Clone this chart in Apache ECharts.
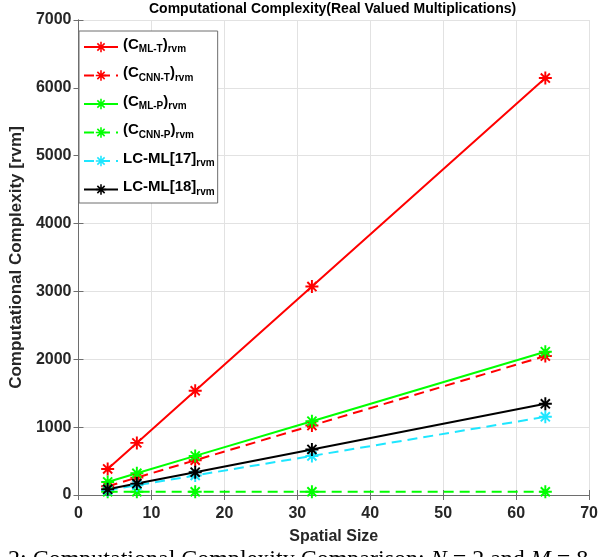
<!DOCTYPE html>
<html>
<head>
<meta charset="utf-8">
<script src="https://cdn.jsdelivr.net/npm/echarts@6/dist/echarts.min.js"></script>
<style>
html,body{margin:0;padding:0;background:#fff;}
#chart{width:601px;height:557px;}
</style>
</head>
<body>
<div id="chart"></div>
<script>
// ---- data ----
const xValues = [4, 8, 16, 32, 64];
const mlT  = [384, 768, 1536, 3072, 6144];
const cnnT = [128, 256, 512, 1024, 2048];
const mlP  = [192, 320, 576, 1088, 2112];
const cnnP = [48, 48, 48, 48, 48];
const lc17 = [72, 144, 288, 576, 1152];
const lc18 = [84, 168, 336, 672, 1344];
const seriesNames = ['ML-T', 'CNN-T', 'ML-P', 'CNN-P', 'LC17', 'LC18'];
const legendLabels = {
  'ML-T':  '{b|(C}{s|ML-T}{b|)}{s|rvm}',
  'CNN-T': '{b|(C}{s|CNN-T}{b|)}{s|rvm}',
  'ML-P':  '{b|(C}{s|ML-P}{b|)}{s|rvm}',
  'CNN-P': '{b|(C}{s|CNN-P}{b|)}{s|rvm}',
  'LC17':  '{b|LC-ML[17]}{s|rvm}',
  'LC18':  '{b|LC-ML[18]}{s|rvm}'
};
const xTitle = 'Spatial Size';
const yTitle = 'Computational Complexity [rvm]';
const chartTitle = 'Computational Complexity(Real Valued Multiplications)';

const FONT = '"Liberation Sans", Arial, Helvetica, sans-serif';
const ASTER = 'path://M-10,-1.5L10,-1.5L10,1.5L-10,1.5Z M-1.5,-10L1.5,-10L1.5,10L-1.5,10Z M-5.94,-8.06L8.06,5.94L5.94,8.06L-8.06,-5.94Z M-8.06,5.94L5.94,-8.06L8.06,-5.94L-5.94,8.06Z';

function mk(name, vals, color, dashed) {
  return {
    name: name,
    type: 'line',
    data: xValues.map((x, i) => [x, vals[i]]),
    symbol: ASTER,
    symbolSize: 13,
    showSymbol: true,
    itemStyle: { color: color },
    lineStyle: { color: color, width: 2, type: dashed ? [10, 6] : 'solid' },
    emphasis: { disabled: true },
    z: 2
  };
}

const chart = echarts.init(document.getElementById('chart'));
const axisCommon = {
  axisLine: { show: true, lineStyle: { color: '#6e6e6e', width: 1 } },
  axisTick: { show: true, inside: true, length: 5, lineStyle: { color: '#6e6e6e' } },
};
chart.setOption({
  animation: false,
  backgroundColor: '#fff',
  grid: { left: 70, right: 9, top: 20, bottom: 62, containLabel: false },
  xAxis: [
    Object.assign({
      type: 'value', min: 0, max: 70, interval: 10, position: 'bottom',
      name: xTitle, nameLocation: 'middle', nameGap: 34,
      nameTextStyle: { fontFamily: FONT, fontWeight: 'bold', fontSize: 16, color: '#262626' },
      axisLabel: { fontFamily: FONT, fontWeight: 'bold', fontSize: 16, color: '#262626', margin: 11,
                   formatter: v => String(v) },
      splitLine: { show: true, lineStyle: { color: '#e2e2e2', width: 1 } }
    }, axisCommon),
    Object.assign({
      type: 'value', min: 0, max: 70, interval: 10, position: 'top',
      axisLabel: { show: false }, splitLine: { show: false }
    }, axisCommon)
  ],
  yAxis: [
    Object.assign({
      type: 'value', min: 0, max: 7000, interval: 1000, position: 'left',
      name: yTitle, nameLocation: 'middle', nameGap: 28,
      nameTextStyle: { fontFamily: FONT, fontWeight: 'bold', fontSize: 17, color: '#262626' },
      axisLabel: { fontFamily: FONT, fontWeight: 'bold', fontSize: 16, color: '#262626', margin: 7,
                   formatter: v => String(v) },
      splitLine: { show: true, lineStyle: { color: '#e2e2e2', width: 1 } }
    }, axisCommon),
    Object.assign({
      type: 'value', min: 0, max: 7000, interval: 1000, position: 'right',
      axisLabel: { show: false }, splitLine: { show: false }
    }, axisCommon)
  ],
  legend: {
    orient: 'vertical',
    left: 79, top: 31,
    padding: [6, 3, 6, 4],
    itemGap: 11,
    itemWidth: 34,
    itemHeight: 13,
    borderColor: '#6e6e6e',
    borderWidth: 1,
    borderRadius: 0,
    backgroundColor: '#fff',
    selectedMode: false,
    data: seriesNames,
    formatter: function (name) { return legendLabels[name]; },
    textStyle: {
      color: '#000',
      rich: {
        b: { fontFamily: FONT, fontWeight: 'bold', fontSize: 15, color: '#000', padding: [0, 0, 5, 0] },
        s: { fontFamily: FONT, fontWeight: 'bold', fontSize: 10, color: '#000', padding: [5, 0, 0, 0] }
      }
    }
  },
  graphic: [
    {
      type: 'text', left: 331 - 182, top: 2,
      style: { text: chartTitle, font: 'bold 14px ' + FONT, fill: '#000' }
    },
    {
      type: 'text', left: 8, top: 548,
      style: {
        text: '2: Computational Complexity Comparison: {i|N} = 2 and {i|M} = 8',
        font: '24px "Liberation Serif", "Times New Roman", serif', fill: '#000',
        rich: { i: { fontFamily: '"Liberation Serif", serif', fontStyle: 'italic', fontSize: 24 } }
      }
    }
  ],
  series: [
    mk('ML-T', mlT, '#ff0000', false),
    mk('CNN-T', cnnT, '#ff0000', true),
    mk('ML-P', mlP, '#00ff00', false),
    mk('CNN-P', cnnP, '#00ff00', true),
    mk('LC17', lc17, '#1ee6ff', true),
    mk('LC18', lc18, '#000000', false)
  ]
});
</script>
</body>
</html>
